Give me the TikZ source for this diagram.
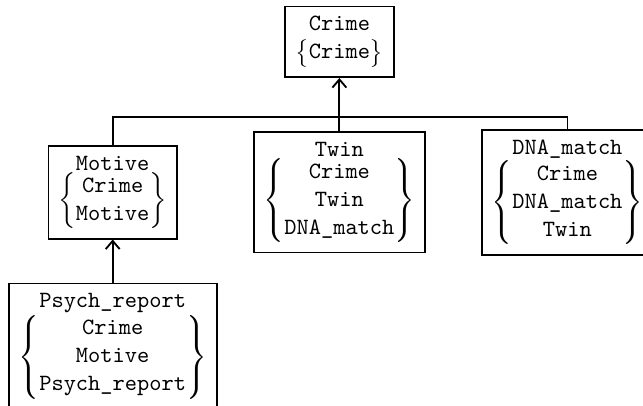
\documentclass[tikz,border=0pt]{standalone}
\usepackage{amsmath}
\usetikzlibrary{positioning}
\usetikzlibrary{arrows.meta}
\newcommand{\varset}[1]{\left\{\begin{matrix}#1\end{matrix}\right\}}

\begin{document}
\begin{tikzpicture}[
    >={Straight Barb[length=3.5pt,width=6pt]},
    clique/.style={
        draw,
        thick,
        align=center,
        inner sep=4.3pt,
        font=\ttfamily
    },
    link/.style={thick} ]
    \useasboundingbox (0,0) rectangle (9.70,-6.11);
    \clip (0,0) rectangle (9.70,-6.11);
    \node[clique] (crime) at (5.12,-0.63) {Crime\\$\varset{\texttt{Crime}}$};
    \node[clique] (motive) at (1.70,-2.90) {Motive\\$\varset{\texttt{Crime}\\ \texttt{Motive}}$};
    \node[clique] (twin) at (5.12,-2.90) {Twin\\$\varset{\texttt{Crime}\\ \texttt{Twin}\\ \texttt{DNA\_match}}$};
    \node[clique] (dna) at (8.56,-2.90) {DNA\_match\\$\varset{\texttt{Crime}\\ \texttt{DNA\_match}\\ \texttt{Twin}}$};
    \node[clique] (psych) [below=0.65cm of motive] {Psych\_report\\$\varset{\texttt{Crime}\\ \texttt{Motive}\\ \texttt{Psych\_report}}$};
    \coordinate (fork) at (5.12,-1.77);
    \draw [link,->] (twin) -- (crime);
    \draw [link] (motive) |- (fork) -| (dna);
    \draw [link,->] (psych) -- (motive);
\end{tikzpicture}
\end{document}
